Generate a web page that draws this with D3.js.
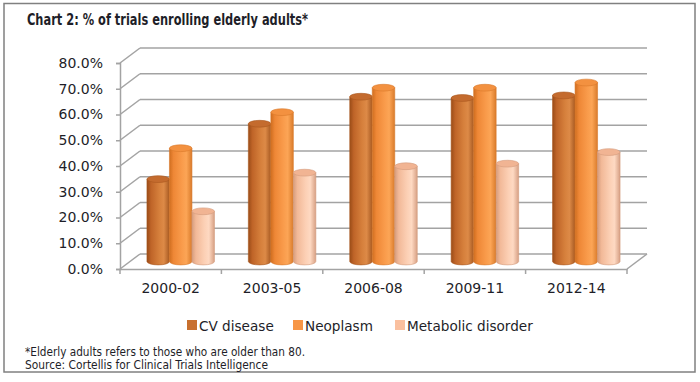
<!DOCTYPE html>
<html>
<head>
<meta charset="utf-8">
<script src="https://cdn.jsdelivr.net/npm/d3@7"></script>
<style>
  html, body { margin: 0; padding: 0; background: #fff; }
  svg { display: block; }
  text { font-family: "DejaVu Sans", sans-serif; fill: #1e1e28; }
</style>
</head>
<body>
<svg id="chart" width="700" height="382"></svg>
<script>
// ---- data ----
const categories = ["2000-02", "2003-05", "2006-08", "2009-11", "2012-14"];
const seriesNames = ["CV disease", "Neoplasm", "Metabolic disorder"];
const cvDisease = [32, 53.5, 64, 63.5, 64.5];
const neoplasm = [44, 58, 67.5, 67.5, 69.5];
const metabolic = [19.5, 34.5, 37, 38, 42.5];
const yTicks = [0, 10, 20, 30, 40, 50, 60, 70, 80];
const titleText = "Chart 2: % of trials enrolling elderly adults*";
const noteLines = ["*Elderly adults refers to those who are older than 80.",
                   "Source: Cortellis for Clinical Trials Intelligence"];

const seriesValues = [cvDisease, neoplasm, metabolic];

// ---- styles ----
const palette = {
  "CV disease":        { legend: "#c8702f", stops: ["#9a4c18", "#bf6428", "#d6803c", "#dd8a47", "#a85a22"], top: "#c46b2e", rim: "#a9581f" },
  "Neoplasm":          { legend: "#f79646", stops: ["#d06e20", "#ee8736", "#f99b4b", "#fca556", "#d97b2b"], top: "#f39140", rim: "#d9792a" },
  "Metabolic disorder":{ legend: "#fac09f", stops: ["#d69d7e", "#f2b998", "#fcd0b5", "#fed9c2", "#d7a084"], top: "#f1b493", rim: "#d39a7c" }
};

const svg = d3.select("#chart");
const defs = svg.append("defs");
seriesNames.forEach((s, i) => {
  const g = defs.append("linearGradient").attr("id", "grad" + i)
    .attr("x1", "0%").attr("x2", "100%").attr("y1", "0%").attr("y2", "0%");
  const offs = [0, 0.18, 0.55, 0.75, 1];
  palette[s].stops.forEach((c, k) => g.append("stop").attr("offset", offs[k]).attr("stop-color", c));
});

// frame
svg.append("rect").attr("x", 4).attr("y", 3.5).attr("width", 691).attr("height", 368.5)
  .attr("fill", "none").attr("stroke", "#808080").attr("stroke-width", 1.5);

// title
svg.append("text").attr("x", 27).attr("y", 25).attr("font-size", 15).attr("font-weight", 600)
  .attr("font-family", "'Open Sans', sans-serif")
  .attr("textLength", 281).attr("lengthAdjust", "spacingAndGlyphs").text(titleText);

// ---- scales ----
const x = d3.scaleBand().domain(categories).range([120, 627]);
const y = d3.scaleLinear().domain([0, 80]).range([269, 63]);
const depthX = 20, depthY = -15;
const sub = d3.scaleBand().domain(seriesNames).range([0, 67.5]);

const grid = svg.append("g").attr("stroke", "#a3a3a3").attr("stroke-width", 1.5).attr("fill", "none");
// back wall gridlines and side wall diagonals
yTicks.forEach(t => {
  grid.append("line").attr("x1", 120 + depthX).attr("x2", 627 + depthX)
    .attr("y1", y(t) + depthY).attr("y2", y(t) + depthY);
  grid.append("line").attr("x1", 120).attr("x2", 120 + depthX)
    .attr("y1", y(t)).attr("y2", y(t) + depthY);
});
// floor right diagonal
grid.append("line").attr("x1", 627).attr("x2", 627 + depthX).attr("y1", y(0)).attr("y2", y(0) + depthY);

// y axis
const yAxis = d3.axisLeft(y).tickValues(yTicks).tickSize(4).tickPadding(13)
  .tickFormat(d => d3.format(".1f")(d) + "%");
const yg = svg.append("g").attr("transform", "translate(120,0)").call(yAxis);
yg.select(".domain").attr("stroke", "#a3a3a3").attr("stroke-width", 1.5);
yg.selectAll(".tick line").attr("stroke", "#a3a3a3").attr("stroke-width", 1.5);
yg.selectAll(".tick text").attr("font-size", 14).attr("font-family", "'DejaVu Sans', sans-serif").attr("fill", "#1e1e28");

// x axis
const xAxis = d3.axisBottom(x).tickSize(0).tickPadding(14);
const xg = svg.append("g").attr("transform", `translate(0,${y(0)})`).call(xAxis);
xg.select(".domain").attr("stroke", "#a3a3a3").attr("stroke-width", 1.5);
xg.selectAll(".tick text").attr("font-size", 14).attr("font-family", "'DejaVu Sans', sans-serif").attr("fill", "#1e1e28");
// category boundary ticks
const bounds = categories.map(c => x(c)).concat([x(categories[categories.length - 1]) + x.bandwidth()]);
svg.append("g").selectAll("line").data(bounds).join("line")
  .attr("x1", d => d).attr("x2", d => d).attr("y1", y(0)).attr("y2", y(0) + 5)
  .attr("stroke", "#a3a3a3").attr("stroke-width", 1.5);

// ---- cylinders ----
const bw = sub.bandwidth();
const rx = bw / 2, ry = 3.4;
const barsG = svg.append("g");
categories.forEach((c, ci) => {
  seriesNames.forEach((s, si) => {
    const v = seriesValues[si][ci];
    const cx = x(c) + x.bandwidth() / 2 - 33.75 + sub(s) + bw / 2 + depthX / 2;
    const top = y(v) + depthY / 2;
    const bot = y(0) + depthY / 2;
    const l = cx - rx, r = cx + rx;
    barsG.append("path")
      .attr("d", `M${l},${top} L${l},${bot} A${rx},${ry} 0 0 0 ${r},${bot} L${r},${top} Z`)
      .attr("fill", `url(#grad${si})`).attr("stroke", palette[s].rim).attr("stroke-width", 0.6);
    barsG.append("ellipse").attr("cx", cx).attr("cy", top).attr("rx", rx).attr("ry", ry)
      .attr("fill", palette[s].top).attr("stroke", palette[s].rim).attr("stroke-width", 0.6);
  });
});

// ---- legend ----
const legendX = [187, 293, 395];
const lg = svg.append("g");
seriesNames.forEach((s, i) => {
  lg.append("rect").attr("x", legendX[i]).attr("y", 320).attr("width", 10).attr("height", 10)
    .attr("fill", palette[s].legend);
  lg.append("text").attr("x", legendX[i] + 12).attr("y", 330.5).attr("font-size", 13.6).text(s);
});

// ---- footnote ----
const noteW = [280, 243];
noteLines.forEach((t, i) => {
  svg.append("text").attr("x", 25).attr("y", 356 + i * 12.7).attr("font-size", 12)
    .attr("font-family", "'Open Sans', sans-serif")
    .attr("textLength", noteW[i]).attr("lengthAdjust", "spacingAndGlyphs").text(t);
});
</script>
</body>
</html>
